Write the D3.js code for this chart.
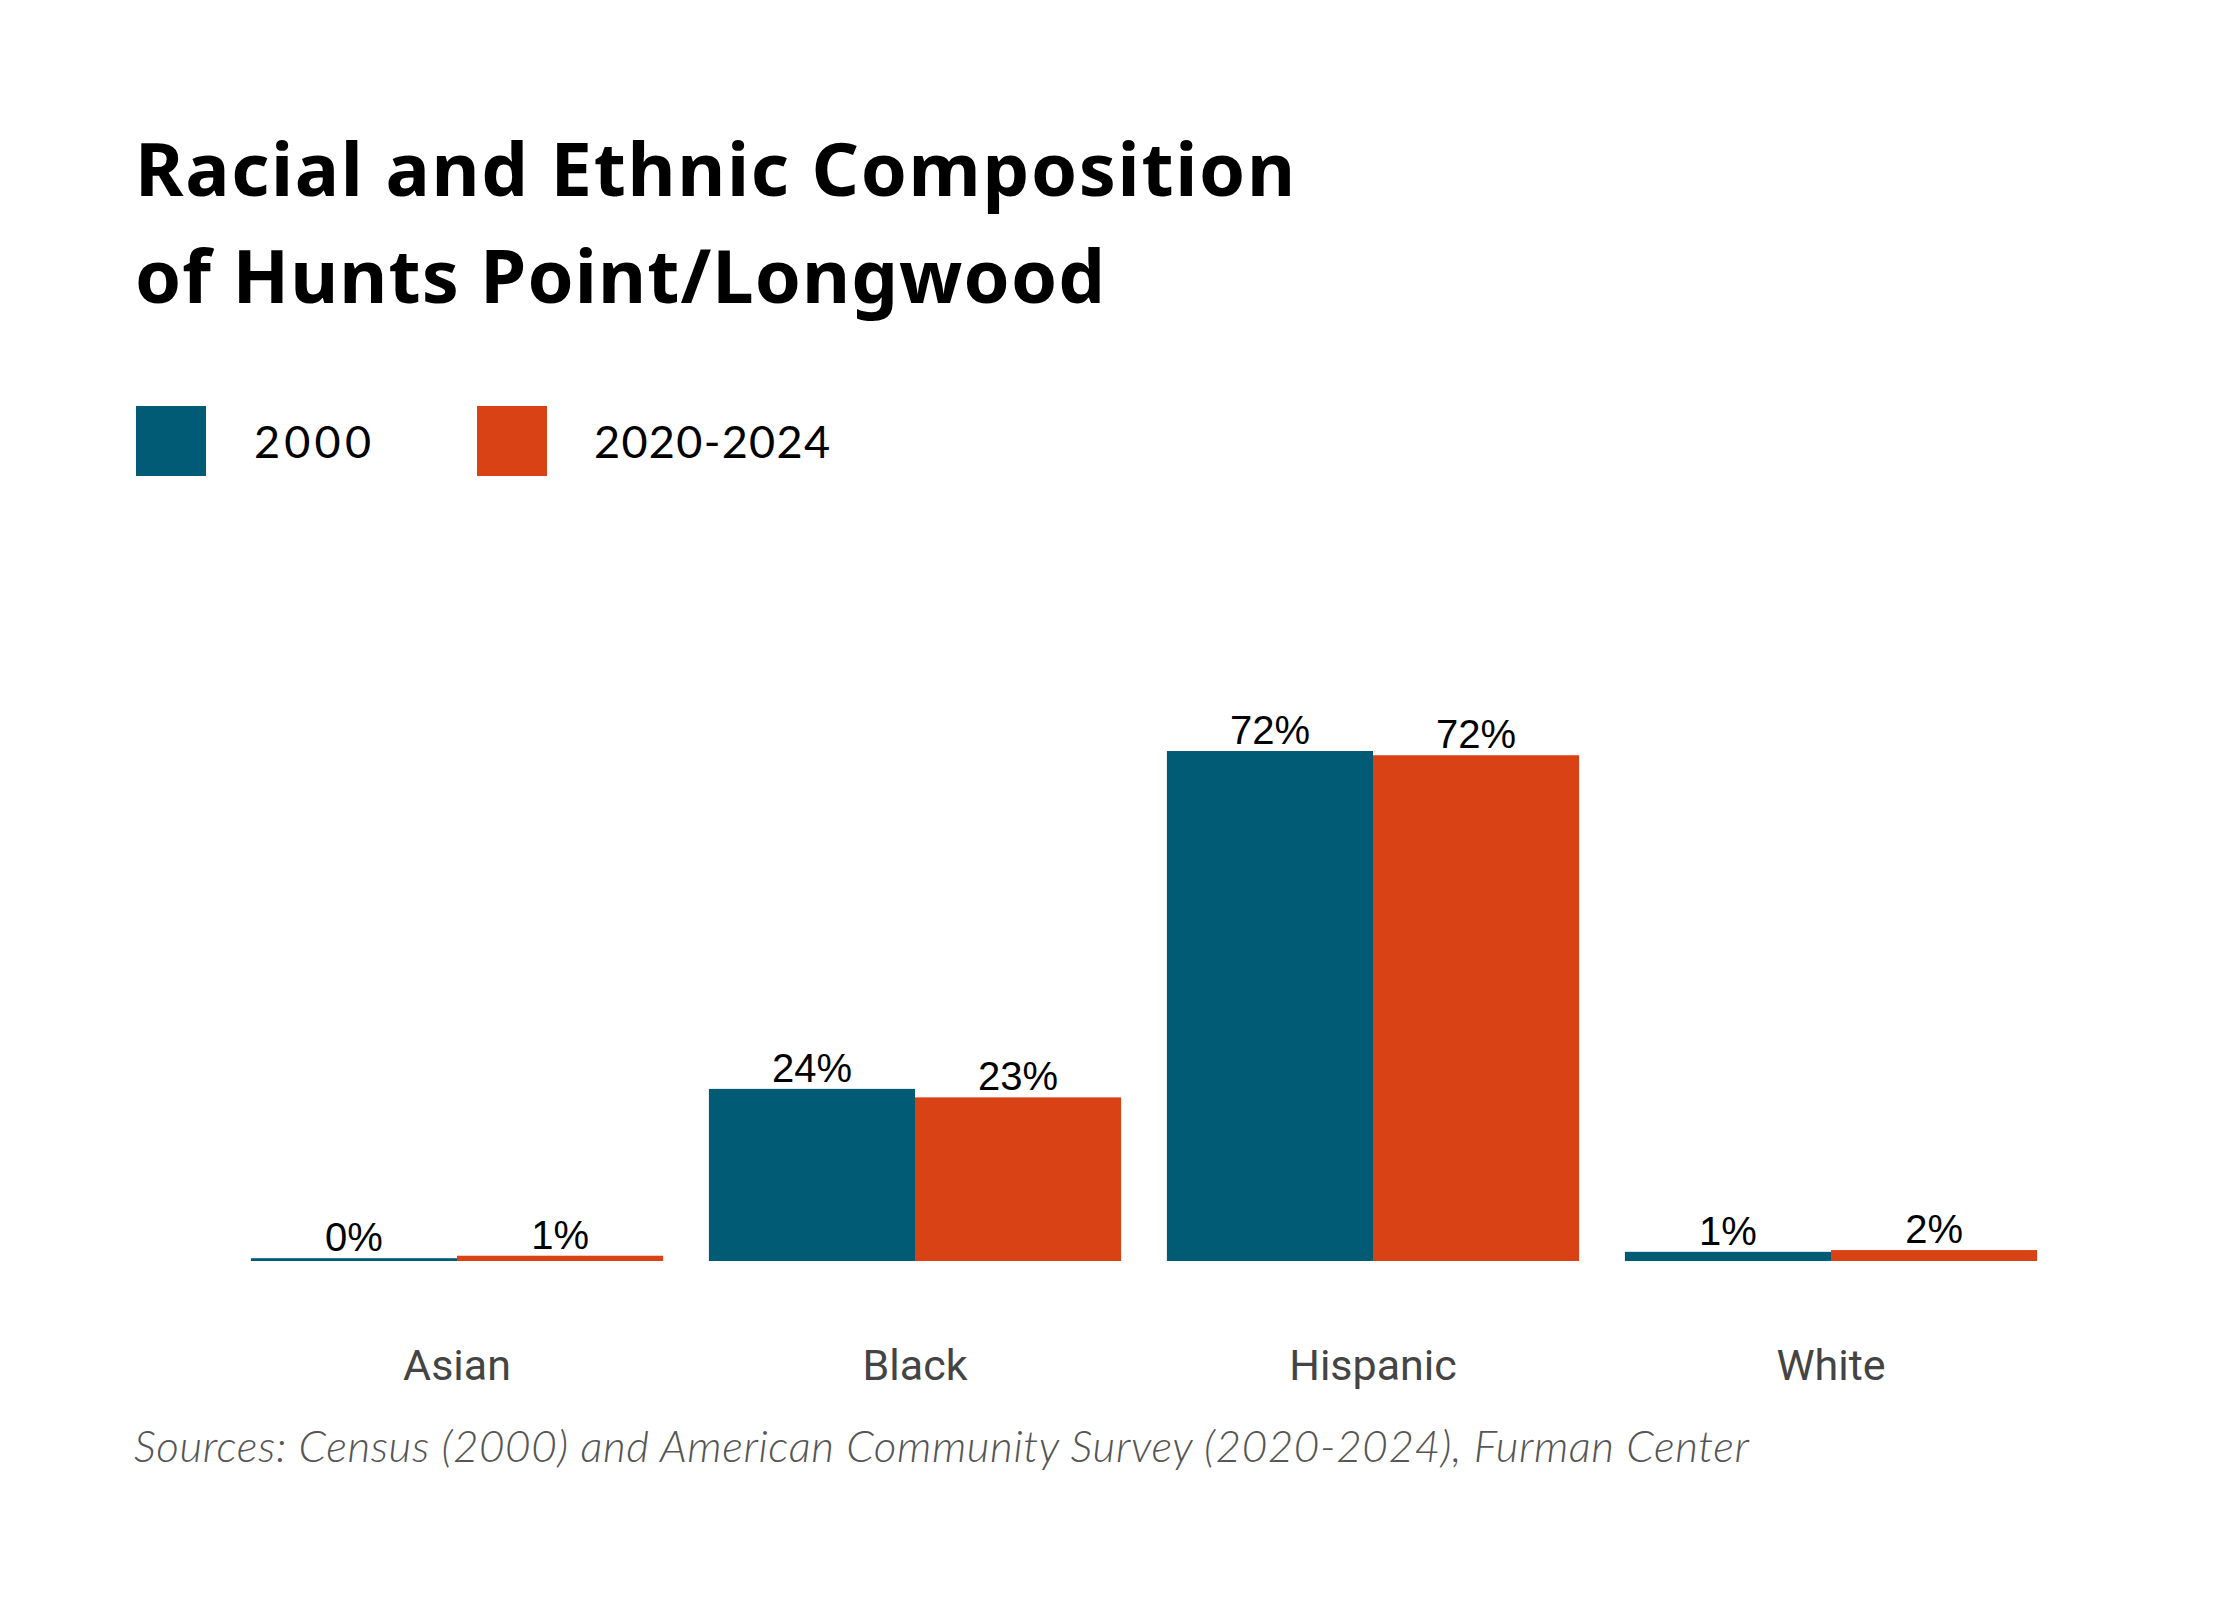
<!DOCTYPE html>
<html>
<head>
<meta charset="utf-8">
<script src="https://cdn.jsdelivr.net/npm/d3@7"></script>
<style>
  html, body { margin: 0; padding: 0; background: #ffffff; }
  svg { display: block; }
</style>
</head>
<body>
<svg id="chart" width="2240" height="1600"></svg>
<script>
// ---- data ----
const categories = ["Asian", "Black", "Hispanic", "White"];
const seriesNames = ["2000", "2020-2024"];
const values2000 = [0.4, 24.4, 72.3, 1.3];
const values2020 = [0.75, 23.2, 71.7, 1.55];
const seriesColors = ["#025B75", "#D84214"];
const titleLines = ["Racial and Ethnic Composition", "of Hunts Point/Longwood"];
const sourceText = "Sources: Census (2000) and American Community Survey (2020-2024), Furman Center";

// ---- layout ----
const W = 2240, H = 1600;
const baseline = 1261, plotTop = 751;
const svg = d3.select("#chart");
svg.append("rect").attr("width", W).attr("height", H).attr("fill", "#fff");

const rows = categories.map((c, i) => ({ cat: c, vals: [values2000[i], values2020[i]] }));

const x0 = d3.scaleBand().domain(categories).range([228, 2060]).paddingInner(0.1).paddingOuter(0.05);
const x1 = d3.scaleBand().domain(seriesNames).range([0, x0.bandwidth()]).padding(0);
const y = d3.scaleLinear().domain([0, d3.max([...values2000, ...values2020])]).range([baseline, plotTop]);
const color = d3.scaleOrdinal().domain(seriesNames).range(seriesColors);
const fmt = d3.format(".0f");

function fitText(sel, target) {
  sel.each(function () {
    const len = this.getComputedTextLength();
    if (len > 0) d3.select(this).attr("textLength", target).attr("lengthAdjust", "spacing");
  });
}

// title
const titleG = svg.append("g");
const t1 = titleG.append("text").attr("x", 135).attr("y", 196).text(titleLines[0]);
const t2 = titleG.append("text").attr("x", 135).attr("y", 303).text(titleLines[1]);
titleG.selectAll("text")
  .attr("font-family", "'Noto Sans', 'Open Sans', sans-serif")
  .attr("font-weight", 700)
  .attr("font-size", 74)
  .attr("fill", "#000");
fitText(t1, 1160);
fitText(t2, 970);

// legend
const legendX = [136, 477];
const legendTextX = [254, 594];
const legendTextW = [117, 236];
const lg = svg.append("g");
seriesNames.forEach((s, i) => {
  lg.append("rect").attr("x", legendX[i]).attr("y", 406).attr("width", 70).attr("height", 70).attr("fill", color(s));
  const t = lg.append("text").attr("x", legendTextX[i]).attr("y", 458)
    .attr("font-family", "Lato, 'Open Sans', sans-serif")
    .attr("font-size", 45).attr("fill", "#000").text(s);
  fitText(t, legendTextW[i]);
});

// bars
const groups = svg.append("g").selectAll("g").data(rows).join("g")
  .attr("transform", d => `translate(${x0(d.cat)},0)`);

groups.selectAll("rect").data(d => d.vals.map((v, i) => ({ s: seriesNames[i], v })))
  .join("rect")
  .attr("x", d => x1(d.s))
  .attr("y", d => y(d.v))
  .attr("width", x1.bandwidth())
  .attr("height", d => baseline - y(d.v))
  .attr("fill", d => color(d.s));

groups.selectAll("text.val").data(d => d.vals.map((v, i) => ({ s: seriesNames[i], v })))
  .join("text")
  .attr("class", "val")
  .attr("x", d => x1(d.s) + x1.bandwidth() / 2)
  .attr("y", d => y(d.v) - 7)
  .attr("text-anchor", "middle")
  .attr("font-family", "'Liberation Sans', Arial, sans-serif")
  .attr("font-size", 40)
  .attr("fill", "#000")
  .text(d => fmt(d.v) + "%");

// x axis labels
const xAxis = d3.axisBottom(x0).tickSize(0).tickPadding(0);
const axG = svg.append("g").attr("transform", `translate(0,${1380})`).call(xAxis);
axG.select(".domain").remove();
axG.selectAll("text")
  .attr("dy", 0)
  .attr("y", 0)
  .attr("font-family", "Roboto, 'Open Sans', sans-serif")
  .attr("font-size", 43)
  .attr("fill", "#444");

// source
const src = svg.append("text").attr("x", 134).attr("y", 1462)
  .attr("font-family", "Lato, 'Open Sans', sans-serif")
  .attr("font-style", "italic")
  .attr("font-weight", 300)
  .attr("font-size", 44)
  .attr("fill", "#555")
  .text(sourceText);
fitText(src, 1615);
</script>
</body>
</html>
